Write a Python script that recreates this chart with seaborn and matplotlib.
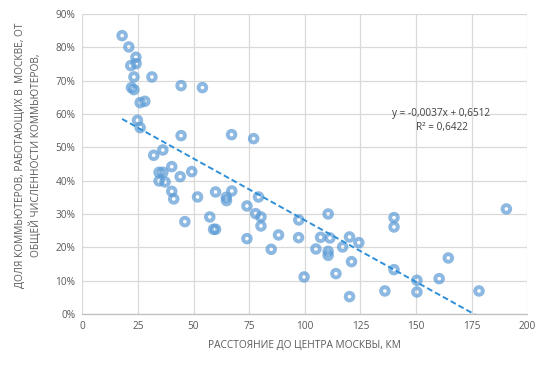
# -*- coding: utf-8 -*-
# Доля коммьютеров, работающих в Москве, в зависимости от расстояния до центра
import matplotlib
matplotlib.use("Agg")
import matplotlib.pyplot as plt
from matplotlib.ticker import PercentFormatter, MultipleLocator
import seaborn as sns
import numpy as np
import pandas as pd

# расстояние до центра Москвы, км
dist_km = [17.9, 20.9, 24.1, 21.8, 24.2, 23.2, 31.3, 22.1, 23.2, 44.4,
           54.0, 26.0, 28.1, 24.8, 26.0, 44.4, 67.1, 77.0, 32.1, 36.2,
           34.5, 36.2, 40.2, 44.0, 49.2, 34.5, 37.2, 40.2, 41.1, 51.8,
           59.9, 67.2, 64.7, 64.8, 74.0, 79.2, 77.9, 80.3, 80.3, 46.1,
           57.3, 59.0, 59.9, 74.0, 88.2, 84.9, 97.3, 97.2, 99.7, 110.5,
           107.1, 111.3, 105.0, 110.5, 110.5, 117.0, 120.1, 124.3, 121.0, 114.0,
           120.1, 136.0, 140.1, 140.1, 140.1, 150.4, 150.4, 160.4, 164.5, 178.3,
           190.6]
# доля коммьютеров, работающих в Москве
share = [0.835, 0.801, 0.770, 0.745, 0.751, 0.711, 0.711, 0.679, 0.673, 0.685,
         0.679, 0.634, 0.638, 0.581, 0.559, 0.535, 0.538, 0.526, 0.476, 0.492,
         0.425, 0.425, 0.442, 0.412, 0.427, 0.399, 0.396, 0.368, 0.345, 0.351,
         0.366, 0.369, 0.350, 0.340, 0.324, 0.351, 0.301, 0.291, 0.264, 0.277,
         0.291, 0.254, 0.254, 0.226, 0.237, 0.194, 0.282, 0.229, 0.111, 0.300,
         0.230, 0.228, 0.195, 0.188, 0.176, 0.201, 0.231, 0.214, 0.157, 0.121,
         0.052, 0.069, 0.289, 0.261, 0.133, 0.101, 0.066, 0.106, 0.168, 0.069,
         0.315]

# линейный тренд (из подписи на графике)
trend_slope = -0.0037
trend_intercept = 0.6512
trend_r2 = 0.6422

df = pd.DataFrame({"dist": dist_km, "share": share})

sns.set_theme(style="whitegrid")
plt.rcParams['font.family'] = ['Open Sans', 'DejaVu Sans']

text_grey = '#595959'
fig = plt.figure(figsize=(5.45, 3.72), dpi=100)
ax = fig.add_axes([0.151, 0.156, 0.8165, 0.8065])

sns.scatterplot(data=df, x="dist", y="share", ax=ax, marker='o', s=30,
                facecolor='none', edgecolor='#5B9BD5', linewidth=2.8,
                alpha=0.7, zorder=3)

# линия тренда: от минимального x до пересечения с осью
x_line = np.linspace(min(dist_km), max(dist_km), 200)
y_line = trend_intercept + trend_slope * x_line
ax.plot(x_line, y_line, color='#2F8FD8', lw=1.4, ls=(0, (3, 1.6)), zorder=4)

eq_text = "y = %s" % f"{trend_slope:.4f}x + {trend_intercept:.4f}".replace('.', ',')
ax.text(161.2, 0.602, eq_text, ha='center', va='center',
        fontsize=7.2, color='#404040')
ax.text(161.6, 0.559, "R² = %s" % str(trend_r2).replace('.', ','), ha='center', va='center',
        fontsize=7.2, color='#404040')

ax.set_xlim(0, 200)
ax.set_ylim(0, 0.9)
ax.xaxis.set_major_locator(MultipleLocator(25))
ax.yaxis.set_major_locator(MultipleLocator(0.1))
ax.yaxis.set_major_formatter(PercentFormatter(1.0, decimals=0))

ax.grid(True, color='#D9D9D9', lw=0.9)
for side in ['top', 'right', 'left']:
    ax.spines[side].set_visible(False)
ax.spines['bottom'].set_color('#BFBFBF')
ax.spines['bottom'].set_linewidth(0.9)
ax.set_facecolor('white')
ax.tick_params(axis='both', length=0, labelsize=7.3, labelcolor=text_grey, pad=5)

ax.set_xlabel("РАССТОЯНИЕ ДО ЦЕНТРА МОСКВЫ, КМ", fontsize=7.3, color=text_grey, labelpad=6)
ax.set_ylabel("ДОЛЯ КОММЬЮТЕРОВ, РАБОТАЮЩИХ В  МОСКВЕ, ОТ\nОБЩЕЙ ЧИСЛЕННОСТИ КОММЬЮТЕРОВ,",
              fontsize=7.3, color=text_grey, linespacing=1.4)
ax.yaxis.set_label_coords(-0.09, 0.53)

fig.savefig("out.png", dpi=100, facecolor='white')
